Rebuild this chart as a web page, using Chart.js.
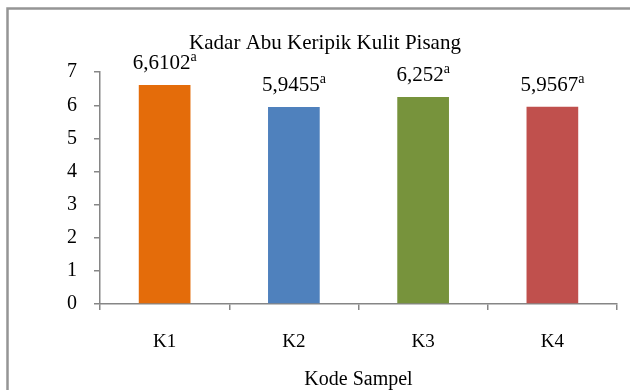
<!DOCTYPE html>
<html>
<head>
<meta charset="utf-8">
<script src="https://cdn.jsdelivr.net/npm/chart.js@4.4.1/dist/chart.umd.min.js"></script>
<style>
  html, body { margin: 0; padding: 0; background: #fff; }
  #wrap { width: 630px; height: 390px; }
</style>
</head>
<body>
<div id="wrap"><canvas id="chart" width="630" height="390"></canvas></div>
<script>
// Ash content of banana peel chips per sample code
const categories = ['K1', 'K2', 'K3', 'K4'];
const ashContent = [6.6102, 5.9455, 6.252, 5.9567];
const significance = ['a', 'a', 'a', 'a'];
const yMin = 0;
const yMax = 7;
const yStep = 1;
const barColors = ['#E46C0A', '#4F81BD', '#77933C', '#C0504D'];

const SERIF = "'Liberation Serif', 'Times New Roman', serif";
const AXIS_GREY = '#868686';

// Outer frame of the chart object (left and top edges)
const framePlugin = {
  id: 'frame',
  beforeDraw(chart) {
    const ctx = chart.ctx;
    ctx.save();
    ctx.fillStyle = '#fff';
    ctx.fillRect(0, 0, chart.width, chart.height);
    ctx.strokeStyle = '#959595';
    ctx.lineWidth = 2.5;
    ctx.beginPath();
    ctx.moveTo(7.5, chart.height);
    ctx.lineTo(7.5, 8.5);
    ctx.lineTo(chart.width, 8.5);
    ctx.stroke();
    ctx.restore();
  }
};

// Value labels with a superscript significance letter above each bar
const valueLabelPlugin = {
  id: 'valueLabels',
  afterDatasetsDraw(chart, args, opts) {
    const ctx = chart.ctx;
    const meta = chart.getDatasetMeta(0);
    ctx.save();
    ctx.fillStyle = '#000';
    ctx.textBaseline = 'alphabetic';
    ctx.textAlign = 'left';
    meta.data.forEach((bar, i) => {
      const main = String(ashContent[i]).replace('.', ',');
      const sup = significance[i];
      ctx.font = opts.size + 'px ' + SERIF;
      const w1 = ctx.measureText(main).width;
      ctx.font = opts.supSize + 'px ' + SERIF;
      const w2 = ctx.measureText(sup).width;
      const x0 = bar.x - (w1 + w2) / 2;
      const y0 = bar.y - opts.gap;
      ctx.font = opts.size + 'px ' + SERIF;
      ctx.fillText(main, x0, y0);
      ctx.font = opts.supSize + 'px ' + SERIF;
      ctx.fillText(sup, x0 + w1, y0 - opts.supRaise);
    });
    ctx.restore();
  }
};

Chart.defaults.color = '#000';
Chart.defaults.font.family = SERIF;

new Chart(document.getElementById('chart'), {
  type: 'bar',
  data: {
    labels: categories,
    datasets: [{
      label: 'Kadar Abu',
      data: ashContent,
      backgroundColor: barColors,
      borderWidth: 0,
      categoryPercentage: 1.0,
      barPercentage: 0.4
    }]
  },
  options: {
    responsive: false,
    devicePixelRatio: 1,
    animation: false,
    layout: { padding: { top: 0, left: 33, right: 13, bottom: 0 } },
    plugins: {
      legend: { display: false },
      tooltip: { enabled: false },
      title: {
        display: true,
        text: 'Kadar Abu Keripik Kulit Pisang',
        color: '#000',
        font: { family: SERIF, size: 21, weight: 'normal', lineHeight: 1.2 },
        padding: { top: 31, bottom: 16 }
      },
      valueLabels: { size: 21, supSize: 14, gap: 16, supRaise: 8 }
    },
    scales: {
      x: {
        offset: true,
        grid: {
          offset: true,
          drawOnChartArea: false,
          drawTicks: true,
          tickLength: 6,
          color: AXIS_GREY,
          lineWidth: 1.5
        },
        border: { color: AXIS_GREY, width: 1.5 },
        ticks: { color: '#000', font: { family: SERIF, size: 19 }, padding: 21 },
        title: {
          display: true,
          text: 'Kode Sampel',
          color: '#000',
          font: { family: SERIF, size: 20, lineHeight: 1.05 },
          padding: { top: 0, bottom: 0 }
        },
        afterFit(scale) { scale.height = 86; }
      },
      y: {
        min: yMin,
        max: yMax,
        grid: {
          drawOnChartArea: false,
          drawTicks: true,
          tickLength: 6,
          color: AXIS_GREY,
          lineWidth: 1.5
        },
        border: { color: AXIS_GREY, width: 1.5 },
        ticks: { stepSize: yStep, color: '#000', font: { family: SERIF, size: 20 }, padding: 17 },
        afterFit(scale) { scale.width = 67; }
      }
    }
  },
  plugins: [framePlugin, valueLabelPlugin]
});
</script>
</body>
</html>
